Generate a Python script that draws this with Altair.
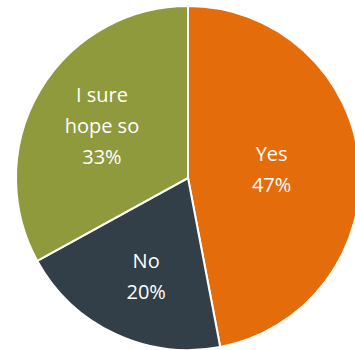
import altair as alt
import pandas as pd

categories = ["Yes", "No", "I sure hope so"]
display_labels = ["Yes\n47%", "No\n20%", "I sure\nhope so\n33%"]
values = [47, 20, 33]
order = [0, 1, 2]
colors = ["#E46C0A", "#333F48", "#8E9A3B"]

df = pd.DataFrame({"category": categories, "value": values, "label": display_labels, "order": order})

CX, CY, R = 188, 178, 172
LH = 31

base = alt.Chart(df).encode(
    theta=alt.Theta("value:Q", stack=True),
    order=alt.Order("order:Q"),
    x=alt.value(CX),
    y=alt.value(CY),
)

arcs = base.mark_arc(outerRadius=R, stroke="white", strokeWidth=2).encode(
    color=alt.Color("category:N", scale=alt.Scale(domain=categories, range=colors), legend=None)
)

label_cfg = {"Yes": (84, 2, 0), "No": (110, 2, 5), "I sure hope so": (100, 3, 0)}
texts = []
for cat, (rad, nlines, dx) in label_cfg.items():
    texts.append(
        base.mark_text(
            radius=rad, color="white", font="Open Sans", fontSize=20,
            lineBreak="\n", lineHeight=LH, align="center", baseline="middle",
            dy=-(nlines - 1) * LH / 2, dx=dx
        ).encode(text="label:N", opacity=alt.condition(f"datum.category == '{cat}'", alt.value(1), alt.value(0)))
    )

chart = alt.layer(arcs, *texts).properties(
    width=355, height=350, padding=0, autosize=alt.AutoSizeParams(type="none")
).configure_view(stroke=None)

chart.save("out.html", embed_options={"renderer": "svg", "actions": False})
